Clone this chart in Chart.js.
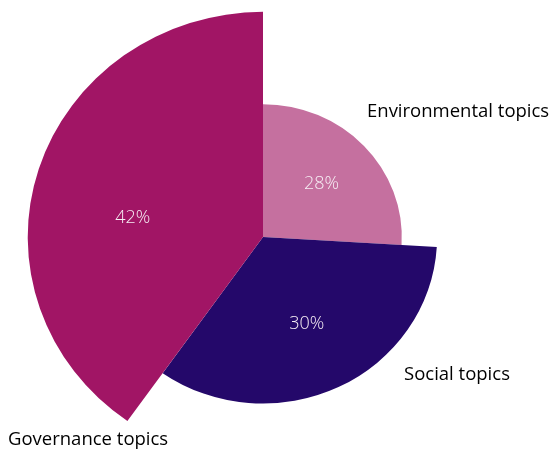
<!DOCTYPE html>
<html>
<head>
<meta charset="utf-8">
<script src="https://cdn.jsdelivr.net/npm/chart.js@4/dist/chart.umd.min.js"></script>
<style>
  html, body { margin: 0; padding: 0; background: #fff; }
  #wrap { width: 550px; height: 452px; }
</style>
</head>
<body>
<div id="wrap"><canvas id="chart"></canvas></div>
<script>
var categories = ["Environmental topics", "Social topics", "Governance topics"];
var shares = [28, 30, 42];
// slice angles (degrees) and relative radii
var angles = [93.4, 121.8, 144.8];
var radii = [59, 74, 100];
var colors = ["#C5709F", "#24086A", "#A11565"];

var stretchX = 1.045;
var font = "'Open Sans', Lato, sans-serif";

// arcs are drawn slightly wider than tall, like the original
var stretchPlugin = {
  id: "stretch",
  beforeDatasetsDraw: function (chart) {
    var s = chart.scales.r;
    var ctx = chart.ctx;
    ctx.save();
    ctx.translate(s.xCenter, s.yCenter);
    ctx.scale(stretchX, 1);
    ctx.translate(-s.xCenter, -s.yCenter);
  },
  afterDatasetsDraw: function (chart) {
    chart.ctx.restore();
  },
};

var labelPlugin = {
  id: "labels",
  afterDraw: function (chart, args, opts) {
    var ctx = chart.ctx;
    var meta = chart.getDatasetMeta(0);
    ctx.save();
    ctx.textBaseline = "middle";
    meta.data.forEach(function (arc, i) {
      var p = opts.pct[i];
      var a = arc.startAngle + (arc.endAngle - arc.startAngle) * p[0];
      var x = arc.x + Math.cos(a) * arc.outerRadius * p[1] * stretchX;
      var y = arc.y + Math.sin(a) * arc.outerRadius * p[1];
      ctx.fillStyle = "#f6eef4";
      ctx.font = "300 18px " + font;
      ctx.textAlign = "center";
      ctx.fillText(shares[i] + "%", x, y);

      var o = opts.outer[i];
      ctx.fillStyle = "#000";
      ctx.font = "18.5px " + font;
      ctx.textAlign = "left";
      ctx.fillText(categories[i], o.x, o.y);
    });
    ctx.restore();
  },
};

new Chart(document.getElementById("chart"), {
  type: "polarArea",
  data: {
    labels: categories,
    datasets: [
      {
        data: radii,
        angle: function (ctx) {
          return angles[ctx.dataIndex];
        },
        backgroundColor: colors,
        borderWidth: 0,
        clip: false,
      },
    ],
  },
  options: {
    responsive: true,
    maintainAspectRatio: false,
    animation: false,
    layout: { padding: { top: 22, bottom: 0, left: 0, right: 24 } },
    scales: {
      r: { display: false, min: 0, max: 95.5 },
    },
    plugins: {
      legend: { display: false },
      tooltip: { enabled: false },
      labels: {
        pct: [
          [0.5, 0.58],
          [0.5, 0.58],
          [0.44, 0.56],
        ],
        outer: [
          { x: 367, y: 112 },
          { x: 404, y: 375 },
          { x: 8, y: 440 },
        ],
      },
    },
  },
  plugins: [stretchPlugin, labelPlugin],
});
</script>
</body>
</html>
